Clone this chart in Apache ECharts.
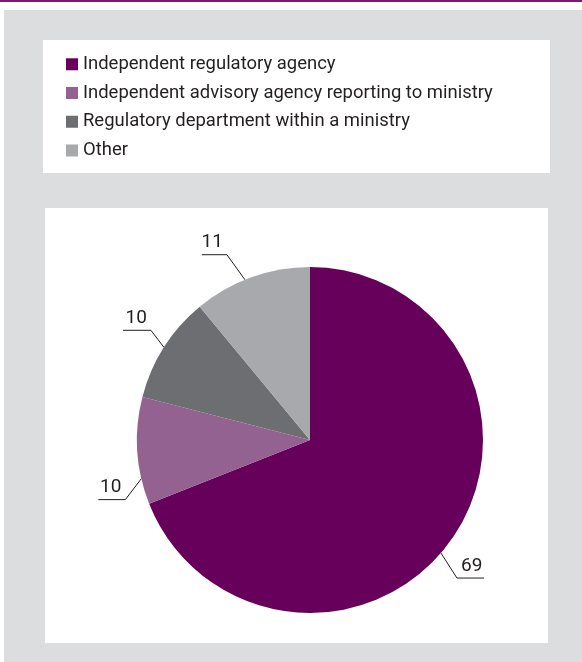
<!DOCTYPE html>
<html><head><meta charset="utf-8">
<script src="https://cdn.jsdelivr.net/npm/echarts@6/dist/echarts.min.js"></script>
<style>html,body{margin:0;padding:0;background:#fff}#c{width:582px;height:662px}</style>
</head><body><div id="c"></div>
<script>
const categories = ['Independent regulatory agency','Independent advisory agency reporting to ministry','Regulatory department within a ministry','Other'];
const values = [69, 10, 10, 11];
const colors = ['#66005a', '#936291', '#6d6e71', '#a7a9ac'];

const FONT = "Roboto, 'Liberation Sans', sans-serif";
// fit the longest legend entry to the reference width (~406px)
const cv = document.createElement('canvas').getContext('2d');
cv.font = '20px ' + FONT;
const w20 = cv.measureText(categories[1]).width;
const FS = Math.min(21, Math.max(15, 20 * 410 / w20));

const CX = 310, CY = 440, R = 173;
// leader-line styling per slice: angle shift (deg) of the anchor, bend vector, horizontal run
const guide = [
  {shift: 6.6, bend: [16, 25], run: 27},
  {shift: -9.3, bend: [-16, 21], run: 27},
  {shift: 0, bend: [-13, -17], run: 28},
  {shift: -2.3, bend: [-18, -25], run: 25}
];

const chart = echarts.init(document.getElementById('c'), null, {renderer: 'canvas'});
chart.setOption({
  animation: false,
  graphic: [
    {type: 'rect', z: -10, shape: {x: 0, y: 0, width: 582, height: 2}, style: {fill: '#7a1a6f'}},
    {type: 'rect', z: -10, shape: {x: 4, y: 10, width: 578, height: 652}, style: {fill: '#dcdddf'}},
    {type: 'rect', z: -9, shape: {x: 43, y: 40, width: 507, height: 133}, style: {fill: '#ffffff'}},
    {type: 'rect', z: -9, shape: {x: 45, y: 208, width: 503, height: 435}, style: {fill: '#ffffff'}}
  ],
  legend: {
    orient: 'vertical', left: 61, top: 49.5 + (20 - FS) / 2,
    itemWidth: 12, itemHeight: 12, itemGap: 29.2 - FS, itemTextGap: 5, icon: 'rect',
    textStyle: {fontFamily: FONT, fontSize: FS, color: '#231f20'},
    data: categories
  },
  series: [{
    type: 'pie',
    center: [CX, CY],
    radius: R,
    startAngle: 90,
    clockwise: true,
    avoidLabelOverlap: false,
    itemStyle: {borderWidth: 0},
    data: categories.map((n, i) => ({name: n, value: values[i], itemStyle: {color: colors[i]}})),
    label: {
      show: true, formatter: p => p.value + '\n ', fontFamily: FONT, fontSize: 19,
      lineHeight: 22, color: '#231f20'
    },
    labelLine: {show: true, length: 28, length2: 25, lineStyle: {color: '#231f20', width: 1}},
    labelLayout: function (params) {
      const g = guide[params.dataIndex];
      const p = params.labelLinePoints;
      if (!g || !p) return {};
      const a0 = Math.atan2(p[0][1] - CY, p[0][0] - CX) + g.shift * Math.PI / 180;
      const p0 = [CX + R * Math.cos(a0), CY + R * Math.sin(a0)];
      const p1 = [p0[0] + g.bend[0], p0[1] + g.bend[1]];
      const left = g.bend[0] < 0;
      const p2 = [p1[0] + (left ? -g.run : g.run), p1[1]];
      return {
        x: left ? p1[0] - 4 : p1[0] + 4,
        y: p1[1] - 1,
        labelLinePoints: [p0, p1, p2]
      };
    }
  }]
});
</script></body></html>
